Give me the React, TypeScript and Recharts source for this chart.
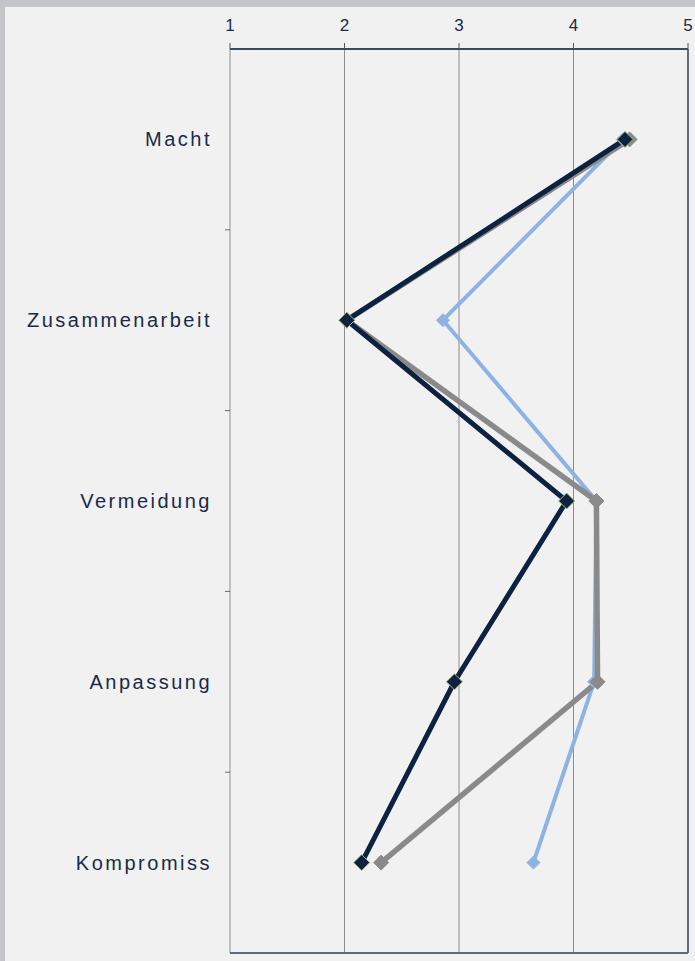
import React from 'react';
import { LineChart, Line, XAxis, YAxis, CartesianGrid, ReferenceLine } from 'recharts';

const categories = ['Macht', 'Zusammenarbeit', 'Vermeidung', 'Anpassung', 'Kompromiss'];
const navyValues = [4.45, 2.02, 3.94, 2.96, 2.15];
const grayValues = [4.49, 2.02, 4.2, 4.21, 2.32];
const blueValues = [4.43, 2.86, 4.2, 4.18, 3.65];
const scaleTicks = [1, 2, 3, 4, 5];

const rows = categories.map((name, i) => ({
  name,
  navy: navyValues[i],
  gray: grayValues[i],
  blue: blueValues[i],
}));

const FONT = '"Liberation Sans", Arial, sans-serif';
const LABEL_MARGIN = 18;

const diamond = (fill: string, stroke: string, r: number) => (props: any) => {
  const { cx, cy, index } = props;
  if (cx == null || cy == null) return <g key={index} />;
  const pts = `${cx},${cy - r} ${cx + r},${cy} ${cx},${cy + r} ${cx - r},${cy}`;
  return <polygon key={index} points={pts} fill={fill} stroke={stroke} strokeWidth={1} />;
};

const CategoryTick = (props: any) => {
  const { x, y, payload, index } = props;
  const half = payload && payload.offset ? payload.offset : 0;
  return (
    <g>
      <text
        x={x}
        y={y}
        dy={7}
        textAnchor="end"
        fill="#1a2a48"
        fontSize={20}
        letterSpacing={2.5}
        fontFamily={FONT}
      >
        {payload.value}
      </text>
      {index < categories.length - 1 && half > 0 && (
        <line
          x1={x + LABEL_MARGIN - 5}
          x2={x + LABEL_MARGIN}
          y1={y + half}
          y2={y + half}
          stroke="#6a6a6a"
        />
      )}
    </g>
  );
};

export default function App() {
  return (
    <div style={{ position: 'absolute', left: 0, top: 0, width: 695, height: 961, background: '#c4c5c9' }}>
      <div style={{ position: 'absolute', left: 5, top: 7, width: 690, height: 954, background: '#f1f1f1' }}>
        <LineChart
          layout="vertical"
          width={690}
          height={954}
          data={rows}
          margin={{ top: 0, right: 7, bottom: 7, left: 0 }}
        >
          <CartesianGrid horizontal={false} stroke="#8c8c8c" />
          <XAxis
            type="number"
            orientation="top"
            domain={[1, 5]}
            ticks={scaleTicks}
            height={42}
            tickSize={6}
            tickMargin={12}
            axisLine={{ stroke: '#3b4a5e', strokeWidth: 2 }}
            tickLine={{ stroke: '#4a5566' }}
            tick={{ fill: '#1a2a48', fontSize: 17, fontFamily: FONT }}
          />
          <XAxis
            xAxisId="b"
            type="number"
            orientation="bottom"
            domain={[1, 5]}
            ticks={scaleTicks}
            height={1}
            tick={false}
            tickLine={false}
            axisLine={{ stroke: '#5b6b82', strokeWidth: 2 }}
          />
          <YAxis
            type="category"
            dataKey="name"
            scale="band"
            width={225}
            tickSize={0}
            tickMargin={LABEL_MARGIN}
            tickLine={false}
            axisLine={false}
            tick={<CategoryTick />}
            interval={0}
          />
          <ReferenceLine x={5} stroke="#5b6b82" strokeWidth={2} />
          <Line
            dataKey="blue"
            stroke="#8db3e2"
            strokeWidth={4}
            dot={diamond('#8db3e2', '#8db3e2', 6.5)}
            isAnimationActive={false}
          />
          <Line
            dataKey="gray"
            stroke="#8a8a8a"
            strokeWidth={5.5}
            dot={diamond('#8a8a8a', '#8a8a8a', 7.5)}
            isAnimationActive={false}
          />
          <Line
            dataKey="navy"
            stroke="#0c2240"
            strokeWidth={5}
            dot={diamond('#0c2240', '#a6b86a', 8)}
            isAnimationActive={false}
          />
        </LineChart>
      </div>
    </div>
  );
}
